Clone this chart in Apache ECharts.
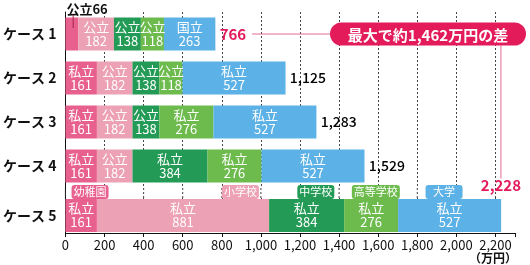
<!DOCTYPE html>
<html><head><meta charset="utf-8">
<script src="https://cdn.jsdelivr.net/npm/echarts@6/dist/echarts.min.js"></script>
<style>html,body{margin:0;padding:0;background:#fff}#c{width:530px;height:265px}</style>
</head><body><div id="c"></div>
<script>
// ---- data ----
const cases = ['ケース 1','ケース 2','ケース 3','ケース 4','ケース 5'];
const stages = ['幼稚園','小学校','中学校','高等学校','大学'];
const kinderType = ['公立','私立','私立','私立','私立'];
const kinder = [66,161,161,161,161];
const elemType = ['公立','公立','公立','公立','私立'];
const elem = [182,182,182,182,881];
const juniorType = ['公立','公立','公立','私立','私立'];
const junior = [138,138,138,384,384];
const highType = ['公立','公立','私立','私立','私立'];
const high = [118,118,276,276,276];
const univType = ['国立','私立','私立','私立','私立'];
const univ = [263,527,527,527,527];
const totals = [766,1125,1283,1529,2228];
const xTicks = [0,200,400,600,800,1000,1200,1400,1600,1800,2000,2200];
// stage tag anchor positions (in 万円 units along the axis)
const stageTagAt = [126,895,1281,1588,1937];

// ---- style ----
const FONT = '"Noto Sans CJK JP","Noto Sans",sans-serif';
const colors = ['#e8608e','#eda1b5','#239b56','#6cbb4c','#5cb1e6'];
const PINK = '#e31b5b';
const vals = [kinder, elem, junior, high, univ];
const types = [kinderType, elemType, juniorType, highType, univType];
const fmt = v => Number(v).toLocaleString('en-US');
const G0 = {top:12, height:176}, G1 = {top:198, height:35};
const AX_MAX = 2300;

const chart = echarts.init(document.getElementById('c'), null, {renderer:'canvas'});
const series = [];
[0,1].forEach(g => {
  const idx = g === 0 ? [0,1,2,3] : [4];
  vals.forEach((arr, s) => {
    series.push({
      type:'bar', stack:'t'+g, xAxisIndex:g, yAxisIndex:g, barWidth:33,
      itemStyle:{color:colors[s]},
      label:{show:true, position:'inside', color:'#fff', fontFamily:FONT, fontSize:13, lineHeight:14,
        formatter: p => {
          const i = idx[p.dataIndex];
          if (s === 0 && i === 0) return types[s][i] + arr[i];
          return types[s][i] + '\n' + arr[i];
        }},
      data: idx.map(i => (s === 0 && i === 0)
        ? {value: arr[i], label:{position:[1,-15], align:'left', verticalAlign:'top', color:'#111', fontWeight:'bold', fontSize:13}}
        : arr[i])
    });
  });
  series.push({
    type:'scatter', xAxisIndex:g, yAxisIndex:g, symbolSize:1, itemStyle:{color:'rgba(0,0,0,0)', opacity:1},
    label:{show:true, position:'right', distance:4, color:'#000', opacity:1, fontFamily:FONT, fontSize:14, fontWeight:500,
      formatter: p => fmt(p.value[0])},
    data: idx.map((i, k) => {
      const d = {value:[totals[i], k]};
      if (i === 0) d.label = {color:PINK, fontSize:15, fontWeight:'bold'};
      if (i === 4) d.label = {color:PINK, position:'top', distance:22, fontSize:15, fontWeight:'bold'};
      return d;
    })
  });
});

const xAxisBase = (g) => ({
  gridIndex:g, type:'value', min:0, max:AX_MAX, interval:200,
  axisLine:{show:g===1, lineStyle:{color:'#111', width:1}},
  axisTick:{show:g===1, length:4, lineStyle:{color:'#111'}},
  axisLabel:{show:g===1, color:'#111', fontFamily:FONT, fontSize:13, margin:6,
    formatter: v => xTicks.indexOf(v) >= 0 ? fmt(v) : ''},
  splitLine:{show:true, showMinLine:false, showMaxLine:false, lineStyle:{color:'#444', type:[2,2], width:1}}
});
const yAxisBase = (g) => ({
  gridIndex:g, type:'category', inverse:true,
  data: g === 0 ? cases.slice(0,4) : cases.slice(4),
  axisLine:{show:true, lineStyle:{color:'#111', width:1}},
  axisTick:{show:false},
  axisLabel:{color:'#111', fontFamily:FONT, fontSize:14, fontWeight:'bold', margin:9}
});

chart.setOption({
  animation:false,
  grid:[{left:60, right:15, top:G0.top, height:G0.height}, {left:60, right:15, top:G1.top, height:G1.height}],
  xAxis:[xAxisBase(0), xAxisBase(1)],
  yAxis:[yAxisBase(0), yAxisBase(1)],
  series
});

// ---- annotations, positioned through the chart's own scales ----
const P = (g, v, c) => chart.convertToPixel({gridIndex:g}, [v, c]);
const gBottom = G0.top + G0.height, gTop = G1.top;
const els = [];
xTicks.forEach(v => {
  if (v === 0) return;
  const x = P(1, v, 0)[0];
  els.push({type:'line', z:1, shape:{x1:x, y1:gBottom, x2:x, y2:gTop},
    style:{stroke:'#444', lineWidth:1, lineDash:[2,2]}});
});
const x0 = P(1, 0, 0)[0];
els.push({type:'line', z:2, shape:{x1:x0, y1:gBottom, x2:x0, y2:gTop}, style:{stroke:'#111', lineWidth:1}});

const seg = P(0, kinder[0] * 0.6, 0);
els.push({type:'line', z:10, shape:{x1:seg[0], y1:seg[1]-19, x2:seg[0], y2:seg[1]-6}, style:{stroke:'#a8244f', lineWidth:1}});

const p0 = P(0, totals[0], 0);
const pMax = P(1, totals[4], 0);
const boxL = 330, boxW = 196, boxH = 23;
els.push({type:'line', z:5, shape:{x1:p0[0]+37, y1:p0[1], x2:boxL, y2:p0[1]}, style:{stroke:'#e46b8f', lineWidth:1}});
els.push({type:'line', z:5, shape:{x1:pMax[0], y1:p0[1]+boxH/2, x2:pMax[0], y2:pMax[1]-37}, style:{stroke:'#e46b8f', lineWidth:1}});
els.push({type:'rect', z:6, shape:{x:boxL, y:p0[1]-boxH/2, width:boxW, height:boxH, r:boxH/2}, style:{fill:PINK}});
els.push({type:'text', z:7, x:boxL+boxW/2, y:p0[1]+1,
  style:{text:'最大で約' + fmt(totals[4]-totals[0]) + '万円の差', fill:'#fff',
    font:'bold 15px ' + FONT, align:'center', verticalAlign:'middle', textAlign:'center', textVerticalAlign:'middle'}});

const tagY = (gBottom + gTop) / 2;
stages.forEach((name, s) => {
  const cx = P(1, stageTagAt[s], 0)[0];
  const w = name.length >= 4 ? 48 : 37, h = 14;
  els.push({type:'rect', z:8, shape:{x:cx-w/2, y:tagY-h/2-1, width:w, height:h, r:3}, style:{fill:colors[s]}});
  els.push({type:'polygon', z:8, shape:{points:[[cx-3, tagY+h/2-1],[cx+3, tagY+h/2-1],[cx, tagY+h/2+2]]}, style:{fill:colors[s]}});
  els.push({type:'text', z:9, x:cx, y:tagY-1,
    style:{text:name, fill:'#fff', font:'11px ' + FONT, align:'center', verticalAlign:'middle', textAlign:'center', textVerticalAlign:'middle'}});
});

els.push({type:'text', z:9, x:517, y:258,
  style:{text:'（万円）', fill:'#111', font:'bold 12px ' + FONT, align:'right', verticalAlign:'middle', textAlign:'right', textVerticalAlign:'middle'}});

chart.setOption({graphic:{elements:els}});
</script>
</body></html>
